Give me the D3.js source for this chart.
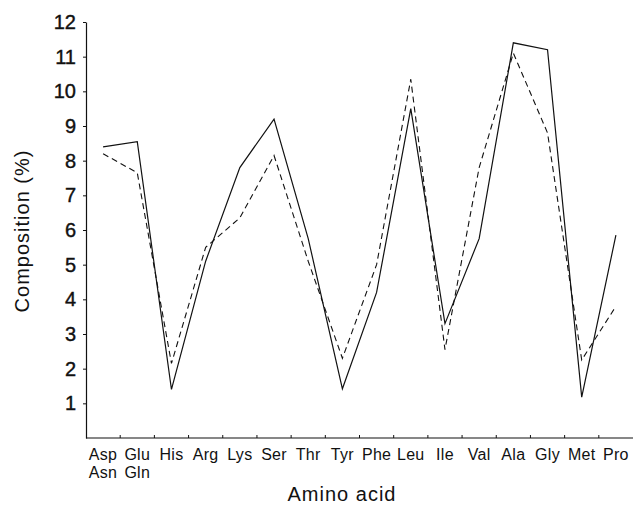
<!DOCTYPE html>
<html lang="en">
<head>
<meta charset="UTF-8">
<title>Amino acid composition</title>
<script src="https://d3js.org/d3.v7.min.js"></script>
<style type="text/css">
  body { margin: 0; background: #fff; }
  text { font-family: "Liberation Sans", Arial, Helvetica, sans-serif; fill: #111; }
</style>
</head>
<body>
<script type="text/javascript">

// amino acids along the x axis (second line only for the first two)
var categories = ["Asp", "Glu", "His", "Arg", "Lys", "Ser", "Thr", "Tyr", "Phe", "Leu", "Ile", "Val", "Ala", "Gly", "Met", "Pro"];
var secondLine = ["Asn", "Gln", "", "", "", "", "", "", "", "", "", "", "", "", "", ""];

// composition (%)
var solidValues  = [8.4, 8.55, 1.4, 5.1, 7.8, 9.2, 5.75, 1.42, 4.2, 9.5, 3.3, 5.75, 11.4, 11.2, 1.18, 5.85];
var dashedValues = [8.2, 7.65, 2.15, 5.5, 6.35, 8.15, 5.1, 2.3, 5.0, 10.35, 2.55, 7.8, 11.1, 8.8, 2.25, 3.8];

var yTicks = [1, 2, 3, 4, 5, 6, 7, 8, 9, 10, 11, 12];

//Width and height (note: "top" is taken by window.top, so use plot* names)
var w = 633;
var h = 510;
var plotLeft = 86, plotRight = 633, plotTop = 22, plotBottom = 438;

var svg = d3.select("body")
  .append("svg")
  .attr("width", w)
  .attr("height", h);

var x = d3.scaleBand()
  .domain(categories)
  .range([plotLeft, plotRight]);

var y = d3.scaleLinear()
  .domain([0, 12])
  .range([plotBottom, plotTop]);

function cx(d, i) { return x(categories[i]) + x.bandwidth() / 2; }

// y axis
var yAxis = svg.append("g")
  .attr("transform", "translate(" + plotLeft + ",0)")
  .call(d3.axisLeft(y).tickValues(yTicks).tickSize(3).tickSizeOuter(0).tickPadding(7));
yAxis.select(".domain").attr("stroke", "#111").attr("stroke-width", 1.2);
yAxis.selectAll(".tick line").attr("stroke", "#111");
yAxis.selectAll(".tick text")
  .style("font-size", "20px")
  .style("font-family", "'Liberation Sans', Arial, sans-serif")
  .attr("fill", "#111")
  .attr("stroke", "#111")
  .attr("stroke-width", 0.4);

// x axis line and boundary ticks
svg.append("line")
  .attr("x1", plotLeft).attr("x2", plotRight)
  .attr("y1", plotBottom).attr("y2", plotBottom)
  .attr("stroke", "#111").attr("stroke-width", 1.2);

svg.selectAll(".xtick")
  .data(categories.slice(1))
  .enter()
  .append("line")
  .attr("class", "xtick")
  .attr("x1", function(d) { return x(d); })
  .attr("x2", function(d) { return x(d); })
  .attr("y1", plotBottom).attr("y2", plotBottom - 3)
  .attr("stroke", "#111");

svg.selectAll(".xlab")
  .data(categories)
  .enter()
  .append("text")
  .attr("class", "xlab")
  .attr("x", function(d) { return x(d) + x.bandwidth() / 2; })
  .attr("y", 460)
  .attr("text-anchor", "middle")
  .style("font-size", "16px")
  .style("letter-spacing", "0.3px")
  .text(function(d) { return d; });

svg.selectAll(".xlab2")
  .data(secondLine)
  .enter()
  .append("text")
  .attr("class", "xlab2")
  .attr("x", function(d, i) { return cx(d, i); })
  .attr("y", 478)
  .attr("text-anchor", "middle")
  .style("font-size", "16px")
  .style("letter-spacing", "0.3px")
  .text(function(d) { return d; });

// axis titles
svg.append("text")
  .attr("x", 342).attr("y", 501)
  .attr("text-anchor", "middle")
  .style("font-size", "20px")
  .style("letter-spacing", "1px")
  .text("Amino acid");

svg.append("text")
  .attr("transform", "translate(29,231) rotate(-90)")
  .attr("text-anchor", "middle")
  .style("font-size", "20px")
  .style("letter-spacing", "1px")
  .text("Composition (%)");

// lines
var line = d3.line()
  .x(cx)
  .y(function(d) { return y(d); });

svg.append("path")
  .datum(solidValues)
  .attr("d", line)
  .attr("fill", "none")
  .attr("stroke", "#111")
  .attr("stroke-width", 1.2);

svg.append("path")
  .datum(dashedValues)
  .attr("d", line)
  .attr("fill", "none")
  .attr("stroke", "#111")
  .attr("stroke-width", 1.1)
  .attr("stroke-dasharray", "6,4");

</script>
</body>
</html>
